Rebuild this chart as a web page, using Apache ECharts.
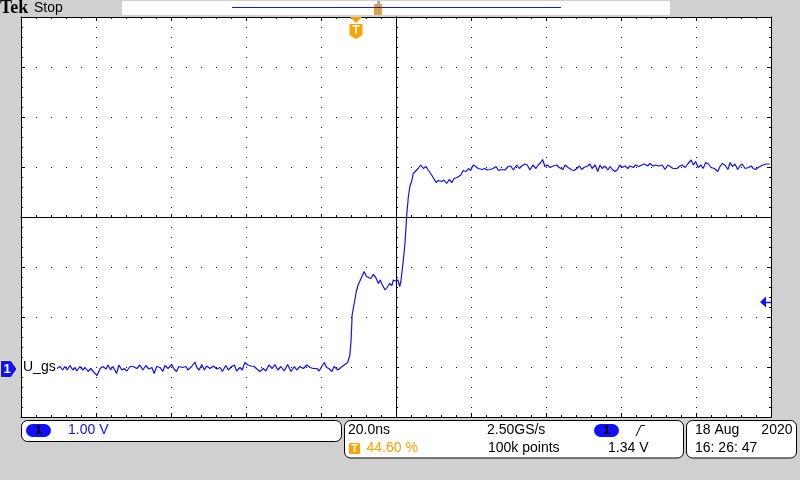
<!DOCTYPE html>
<html>
<head>
<meta charset="utf-8">
<script src="https://cdn.jsdelivr.net/npm/echarts@6.0.0/dist/echarts.min.js"></script>
<style>
html,body{margin:0;padding:0;background:#d0d0d0;}
#c{width:800px;height:480px;}
</style>
</head>
<body>
<div id="c"></div>
<script>
// ---- Acquisition settings ----
const VOLTS_PER_DIV = 1.0;        // CH1 1.00 V/div
const NS_PER_DIV = 20;            // 20.0 ns/div
const CH1_POSITION_DIV = -3.04;   // ground marker position (divisions from centre)
const TRIGGER_TIME_NS = -10.7;    // trigger point relative to screen centre
const TRIGGER_LEVEL_V = 1.34;     // trigger level

// ---- Ch1 waveform (U_gs), time in ns from screen centre, volts ----
const timeNs = [
-90.4,-89.6,-88.9,-88.3,-87.7,-86.9,-86.2,-85.6,-85.1,-84.3,-83.5,-82.9,-82.1,-81.4,-80.5,-79.7,-78.9,-78.2,-77.3,-76.8,
-76.1,-75.5,-74.5,-73.9,-73.1,-72.5,-71.8,-70.9,-70.1,-69.1,-68.3,-67.5,-66.7,-65.9,-65.1,-64.5,-63.8,-62.9,-62.2,-61.6,
-60.8,-59.8,-59.2,-58.5,-57.9,-56.9,-56.0,-55.5,-54.5,-53.6,-53.1,-52.5,-51.8,-51.1,-50.5,-49.6,-48.7,-47.8,-46.9,-46.3,
-45.4,-44.7,-44.0,-43.1,-42.5,-41.6,-41.0,-40.3,-39.5,-38.7,-37.8,-37.1,-36.3,-35.4,-34.7,-33.9,-33.0,-32.3,-31.5,-30.7,
-29.8,-28.9,-28.0,-27.1,-26.5,-25.6,-24.7,-23.8,-22.9,-22.1,-21.1,-20.5,-19.8,-19.1,-18.5,-17.9,-17.1,-16.5,-15.5,-14.7,
-13.8,-12.9,-12.5,-12.3,-12.0,-11.8,-11.7,-11.3,-10.9,-10.6,-10.1,-9.5,-9.0,-8.5,-7.9,-7.4,-6.7,-6.1,-5.4,-4.7,
-4.2,-3.7,-2.9,-2.2,-1.7,-1.1,-0.7,-0.1,0.5,1.0,1.3,1.7,2.1,2.4,2.9,3.3,3.7,4.2,4.6,5.1,
5.9,6.6,7.3,8.0,8.6,9.5,9.9,10.7,11.3,12.2,12.8,13.5,14.2,14.9,15.5,16.3,17.3,17.9,18.7,19.3,
19.9,20.6,21.3,21.9,22.9,23.7,24.3,25.1,25.9,26.7,27.3,28.2,29.1,29.9,30.6,31.3,32.2,32.9,33.5,34.4,
35.0,35.7,36.5,37.3,37.9,38.6,39.1,39.7,40.3,41.1,41.9,42.9,43.5,44.5,45.1,45.9,46.9,47.5,48.2,48.9,
49.5,50.1,51.1,51.7,52.3,53.1,53.8,54.4,55.0,55.7,56.5,57.1,57.7,58.4,59.1,59.7,60.3,61.1,61.8,62.4,
63.3,63.9,64.8,65.5,66.2,67.1,67.7,68.6,69.3,70.1,71.0,71.7,72.5,73.1,73.9,74.9,75.7,76.3,77.1,77.9,
78.7,79.3,79.9,80.6,81.3,81.9,82.6,83.3,84.0,84.9,85.8,86.4,87.0,87.7,88.5,89.1,89.7,90.4,91.1,91.7,
92.3,93.1,94.0,94.7,95.3,95.9,96.6,97.3,97.9,98.8,99.7
];
const ch1Volts = [
0.01,0.05,-0.02,0.05,-0.02,0.07,-0.02,0.03,-0.04,0.05,-0.02,0.03,-0.05,0.01,-0.07,-0.13,0.01,0.05,0.00,0.08,
-0.02,0.05,-0.09,0.08,-0.02,0.01,-0.04,0.05,0.05,0.01,0.08,-0.02,0.07,0.00,0.03,-0.09,0.05,0.03,-0.05,0.07,
0.01,0.09,0.00,-0.05,0.05,0.03,0.05,-0.02,0.05,0.14,0.03,-0.02,0.09,-0.02,0.06,0.01,0.06,0.00,0.03,-0.05,
0.07,-0.02,0.04,0.08,-0.04,0.03,-0.02,0.13,0.08,0.06,0.05,0.00,-0.05,0.01,-0.04,0.08,0.01,0.09,-0.02,0.05,
-0.04,0.09,-0.05,0.05,-0.02,0.05,0.01,0.08,0.03,0.01,0.01,-0.04,0.05,0.13,0.03,0.01,-0.05,0.05,-0.02,0.03,
0.08,0.13,0.09,0.28,0.55,0.88,1.08,1.25,1.41,1.55,1.68,1.78,1.80,1.95,1.85,1.88,1.81,1.89,1.83,1.71,
1.78,1.69,1.58,1.65,1.71,1.67,1.78,1.76,1.78,1.65,1.75,2.01,2.28,2.52,3.12,3.45,3.65,3.76,3.91,3.95,
4.01,4.08,4.01,4.05,3.98,3.88,3.86,3.73,3.77,3.75,3.78,3.71,3.79,3.73,3.81,3.83,3.88,3.97,3.95,4.01,
3.97,4.08,4.05,4.01,3.99,4.01,3.98,3.99,4.01,4.05,3.97,3.99,3.98,4.05,4.06,3.98,4.08,4.01,4.06,4.10,
4.08,3.98,4.08,4.01,4.08,4.13,4.19,4.05,4.08,4.03,4.06,4.08,4.03,3.99,4.08,4.03,3.98,3.97,4.01,4.06,
3.99,4.03,4.06,4.10,4.01,4.08,3.95,4.08,4.01,4.06,3.98,4.05,3.99,3.95,3.99,4.08,4.03,4.06,4.01,4.06,
4.03,4.08,4.05,4.08,4.10,4.06,4.11,4.06,4.08,4.06,4.08,3.99,4.08,4.05,4.01,4.01,4.06,4.08,4.03,4.11,
4.18,4.08,4.15,4.03,4.08,4.01,4.13,4.10,4.03,4.01,3.95,4.05,4.11,4.08,3.99,4.13,4.05,4.10,3.99,4.06,
4.10,4.01,4.03,4.06,4.01,3.99,4.03,4.06,4.08,4.10,4.10
];

// ---- Screen texts ----
const brandText = 'Tek';
const stateText = 'Stop';
const traceLabel = 'U_gs';
const chScaleText = '1.00 V';
const timebaseText = '20.0ns';
const triggerPosText = '44.60 %';
const sampleRateText = '2.50GS/s';
const recordText = '100k points';
const trigLevelText = '1.34 V';
const dateText = '18 Aug';
const yearText = '2020';
const timeText = '16: 26: 47';

const BLUE = '#1010ff';
const ORANGE = '#ffa000';
const FONT = '"Liberation Sans", Arial, sans-serif';

const toDiv = v => v / VOLTS_PER_DIV + CH1_POSITION_DIV;
const seriesData = timeNs.map((t, i) => [t, toDiv(ch1Volts[i])]);

const chart = echarts.init(document.getElementById('c'), null, {renderer: 'canvas', width: 800, height: 480});

const blk = {color: '#000', width: 1};
const halfX = NS_PER_DIV * 5;
function xAx(extra) {
  return Object.assign({
    type: 'value', min: -halfX, max: halfX, interval: NS_PER_DIV,
    axisLabel: {show: false}, splitLine: {show: false}, axisPointer: {show: false}
  }, extra);
}
function yAx(extra) {
  return Object.assign({
    type: 'value', min: -4, max: 4, interval: 1,
    axisLabel: {show: false}, splitLine: {show: false}, axisPointer: {show: false}
  }, extra);
}

const option = {
  animation: false,
  backgroundColor: '#d0d0d0',
  textStyle: {fontFamily: FONT},
  grid: {left: 21, top: 17, width: 750, height: 400, show: true, backgroundColor: '#ffffff', borderWidth: 0},
  xAxis: [
    xAx({axisLine: {show: true, onZero: true, onZeroAxisIndex: 0, lineStyle: blk},
         axisTick: {show: true, inside: true, length: 3, lineStyle: blk},
         minorTick: {show: true, splitNumber: 5, length: 2, lineStyle: blk},
         splitLine: {show: true, lineStyle: {color: '#000', width: 1, type: [1, 9]}}}),
    xAx({axisLine: {show: true, onZero: true, onZeroAxisIndex: 0, lineStyle: blk},
         axisTick: {show: true, inside: false, length: 3, lineStyle: blk},
         minorTick: {show: true, splitNumber: 5, length: 2, lineStyle: blk}}),
    xAx({position: 'top', axisLine: {show: true, onZero: false, lineStyle: blk},
         axisTick: {show: true, inside: true, length: 4, lineStyle: blk},
         minorTick: {show: true, splitNumber: 5, length: 2, lineStyle: blk}}),
    xAx({position: 'bottom', axisLine: {show: true, onZero: false, lineStyle: blk},
         axisTick: {show: true, inside: true, length: 4, lineStyle: blk},
         minorTick: {show: true, splitNumber: 5, length: 2, lineStyle: blk}})
  ],
  yAxis: [
    yAx({axisLine: {show: true, onZero: true, onZeroAxisIndex: 0, lineStyle: blk},
         axisTick: {show: true, inside: true, length: 3, lineStyle: blk},
         minorTick: {show: true, splitNumber: 5, length: 2, lineStyle: blk},
         splitLine: {show: true, lineStyle: {color: '#000', width: 1, type: [1, 14]}}}),
    yAx({axisLine: {show: true, onZero: true, onZeroAxisIndex: 0, lineStyle: blk},
         axisTick: {show: true, inside: false, length: 3, lineStyle: blk},
         minorTick: {show: true, splitNumber: 5, length: 2, lineStyle: blk}}),
    yAx({position: 'left', axisLine: {show: true, onZero: false, lineStyle: blk},
         axisTick: {show: true, inside: true, length: 4, lineStyle: blk},
         minorTick: {show: true, splitNumber: 5, length: 2, lineStyle: blk}}),
    yAx({position: 'right', axisLine: {show: true, onZero: false, lineStyle: blk},
         axisTick: {show: true, inside: true, length: 4, lineStyle: blk},
         minorTick: {show: true, splitNumber: 5, length: 2, lineStyle: blk}})
  ],
  series: [{
    name: 'CH1', type: 'line', xAxisIndex: 0, yAxisIndex: 0,
    data: seriesData, showSymbol: false, symbol: 'none', silent: true, z: 5,
    lineStyle: {color: BLUE, width: 1.2}
  }]
};
chart.setOption(option);

const P = (t, d) => chart.convertToPixel({xAxisIndex: 0, yAxisIndex: 0}, [t, d]);
const trigX = Math.round(P(TRIGGER_TIME_NS, 0)[0]);
const gndY = Math.round(P(0, toDiv(0))[1]);
const lvlY = Math.round(P(0, toDiv(TRIGGER_LEVEL_V))[1]);

function txt(x, y, text, font, fill, align) {
  return {type: 'text', x: x, y: y, z: 100,
    style: {text: text, font: font, fill: fill,
      align: align || 'left', verticalAlign: 'middle',
      textAlign: align || 'left', textVerticalAlign: 'middle'}};
}
function rect(x, y, w, h, r, fill, stroke) {
  return {type: 'rect', z: 90, shape: {x: x, y: y, width: w, height: h, r: r},
    style: {fill: fill, stroke: stroke || null, lineWidth: 1}};
}
const f14 = '14px ' + FONT;

const g = [
  // header
  txt(0, 8.5, brandText, 'bold 18px "Liberation Serif", serif', '#000'),
  txt(34, 8.5, stateText, f14, '#000'),
  rect(122, 1, 548, 14, 0, '#ffffff'),
  {type: 'line', z: 95, shape: {x1: 232, y1: 7.5, x2: 561, y2: 7.5}, style: {stroke: '#1a1ad0', lineWidth: 1}},
  rect(374, 4, 8, 11, 0, ORANGE),
  rect(377, 1, 3, 14, 0, '#a8a8a8'),
  // trigger position marker
  {type: 'polygon', z: 95, shape: {points: [[trigX - 6, 17], [trigX + 6, 17], [trigX, 23]]}, style: {fill: ORANGE}},
  {type: 'polygon', z: 95, shape: {points: [[trigX - 6.5, 24], [trigX + 6.5, 24], [trigX + 6.5, 35], [trigX, 39], [trigX - 6.5, 35]]}, style: {fill: ORANGE}},
  txt(trigX, 31, 'T', 'bold 12px ' + FONT, '#ffffff', 'center'),
  // ground marker + label
  {type: 'polygon', z: 95, shape: {points: [[0.5, gndY - 8.5], [11, gndY - 8.5], [17, gndY], [11, gndY + 8.5], [0.5, gndY + 8.5]]},
    style: {fill: BLUE, stroke: '#e8e0a0', lineWidth: 1}},
  txt(7, gndY, '1', 'bold 13px ' + FONT, '#ffffff', 'center'),
  rect(22, gndY - 8, 34, 16, 0, '#ffffff'),
  txt(23, gndY - 1.5, traceLabel, f14, '#000'),
  // trigger level marker
  {type: 'polygon', z: 95, shape: {points: [[760, lvlY], [766, lvlY - 5.5], [766, lvlY + 5.5]]}, style: {fill: BLUE}},
  {type: 'line', z: 95, shape: {x1: 766, y1: lvlY + 0.5, x2: 771, y2: lvlY + 0.5}, style: {stroke: BLUE, lineWidth: 1.5}},
  // status boxes
  rect(21.5, 420.5, 320, 21, 6, '#ffffff', '#000'),
  rect(344.5, 420.5, 339, 37.5, 6, '#ffffff', '#000'),
  rect(686.5, 420.5, 110, 37.5, 6, '#ffffff', '#000'),
  rect(26, 424, 25, 13, 6.5, BLUE),
  txt(38.5, 430.5, '1', 'bold 13px ' + FONT, '#000', 'center'),
  txt(68, 430.5, chScaleText, f14, BLUE),
  txt(348, 430.5, timebaseText, f14, '#000'),
  rect(349, 443, 11, 11, 1.5, ORANGE),
  txt(354.5, 448.5, 'T', 'bold 11px ' + FONT, '#ffffff', 'center'),
  txt(366.5, 448.5, triggerPosText, f14, ORANGE),
  txt(487, 430.5, sampleRateText, f14, '#000'),
  txt(488, 448.5, recordText, f14, '#000'),
  rect(594, 424, 25, 13, 6.5, BLUE),
  txt(606.5, 430.5, '1', 'bold 13px ' + FONT, '#000', 'center'),
  {type: 'polyline', z: 95, shape: {points: [[636, 436], [641, 425.5], [645, 425.5]]}, style: {stroke: '#000', lineWidth: 1, fill: null}},
  txt(608, 448.5, trigLevelText, f14, '#000'),
  txt(695, 430.5, dateText, f14, '#000'),
  txt(792.5, 430.5, yearText, f14, '#000', 'right'),
  txt(695, 448.5, timeText, f14, '#000')
];
chart.setOption({graphic: g});
</script>
</body>
</html>
